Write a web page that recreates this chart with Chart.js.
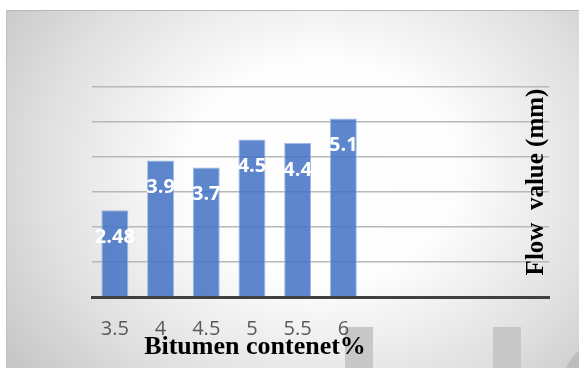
<!DOCTYPE html>
<html>
<head>
<meta charset="utf-8">
<script src="https://cdn.jsdelivr.net/npm/chart.js@4.4.1/dist/chart.umd.min.js"></script>
<style>
    html, body { margin: 0; padding: 0; background: #fff; }
    #wrap { position: relative; width: 579px; height: 368px; overflow: hidden; }
    /* gray frame with soft white glow in the middle */
    #frame {
        position: absolute; left: 6px; top: 10px; right: 0; bottom: 0;
        border-top: 1px solid #b8b8b8; border-left: 1px solid #c0c0c0;
        background: radial-gradient(ellipse 68% 90% at 55% 45%, #ffffff 0%, #fdfdfd 35%, #e0e0e0 72%, #c6c6c6 100%);
    }
    .deco { position: absolute; background: #c8c8c8; }
    #chart { position: absolute; left: 0; top: 0; }
</style>
</head>
<body>
<div id="wrap">
    <div id="frame"></div>
    <div class="deco" style="left:345px;top:327px;width:28px;height:45px;"></div>
    <div class="deco" style="left:493px;top:327px;width:28px;height:45px;"></div>
    <div class="deco" style="left:563px;top:343px;width:80px;height:80px;border-radius:50%;background:#bdbdbd;"></div>
    <canvas id="chart" width="579" height="368"></canvas>
</div>
<script>
// =============================================
// DATA
// =============================================

const categories = ["3.5", "4", "4.5", "5", "5.5", "6"];
const flowValues = [2.48, 3.9, 3.7, 4.5, 4.4, 5.1];
const valueLabels = ["2.48", "3.9", "3.7", "4.5", "4.4", "5.1"];
const emptySlots = 4;           // empty categories to the right of the bars
const yTicks = [0, 1, 2, 3, 4, 5, 6];

const xTitle = "Bitumen contenet%";
const yTitle = "Flow  value (mm)";

// pad the axis with blank categories
const xLabels = categories.concat(new Array(emptySlots).fill(""));
const yData = flowValues.concat(new Array(emptySlots).fill(null));

// =============================================
// PLUGINS: value labels + axis titles
// =============================================

const valueLabelPlugin = {
    id: "valueLabels",
    afterDatasetsDraw(chart) {
        const ctx = chart.ctx;
        const meta = chart.getDatasetMeta(0);
        ctx.save();
        ctx.fillStyle = "#ffffff";
        ctx.font = "bold 20px 'Open Sans'";
        ctx.textAlign = "center";
        ctx.textBaseline = "middle";
        meta.data.forEach((bar, i) => {
            if (i >= valueLabels.length) return;
            ctx.fillText(valueLabels[i], bar.x, bar.y + 27);
        });
        ctx.restore();
    }
};

const titlePlugin = {
    id: "axisTitles",
    afterDraw(chart) {
        const ctx = chart.ctx;
        const area = chart.chartArea;
        ctx.save();
        ctx.fillStyle = "#000000";
        ctx.textAlign = "center";
        ctx.textBaseline = "middle";

        // x title under the tick labels
        ctx.font = "bold 26px 'Liberation Serif'";
        ctx.fillText(xTitle, area.left + 163, area.bottom + 50);

        // y title on the right, reading upward
        ctx.font = "bold 25px 'Liberation Serif'";
        ctx.translate(area.right - 12, (area.top + area.bottom) / 2 - 10);
        ctx.rotate(-Math.PI / 2);
        ctx.fillText(yTitle, 0, 0);
        ctx.restore();
    }
};

// =============================================
// CHART
// =============================================

new Chart(document.getElementById("chart"), {

    type: "bar",

    data: {
        labels: xLabels,
        datasets: [
            {
                data: yData,
                backgroundColor: "rgba(68,114,196,0.86)",
                borderColor: "rgba(150,180,228,0.9)",
                borderWidth: 1,
                categoryPercentage: 1,
                barPercentage: 0.59
            }
        ]
    },

    options: {
        responsive: false,
        animation: false,
        layout: {
            padding: { left: 92, right: 30, top: 87, bottom: 0 }
        },
        plugins: {
            legend: { display: false },
            tooltip: { enabled: false }
        },
        scales: {
            x: {
                grid: { display: false },
                border: { display: true, color: "#404040", width: 3 },
                ticks: {
                    color: "#595959",
                    font: { family: "'Open Sans'", size: 20 },
                    padding: 12,
                    maxRotation: 0,
                    autoSkip: false
                },
                afterFit: scale => { scale.height = 71; }
            },
            y: {
                min: yTicks[0],
                max: yTicks[yTicks.length - 1],
                afterBuildTicks: scale => {
                    scale.ticks = yTicks.map(v => ({ value: v }));
                },
                ticks: { display: false },
                border: { display: false },
                grid: {
                    drawTicks: false,
                    color: c => (c.tick && c.tick.value === 0) ? "rgba(0,0,0,0)" : "#b8b8b8",
                    lineWidth: 1.5
                },
                afterFit: scale => { scale.width = 0; }
            }
        }
    },

    plugins: [valueLabelPlugin, titlePlugin]

});
</script>
</body>
</html>
